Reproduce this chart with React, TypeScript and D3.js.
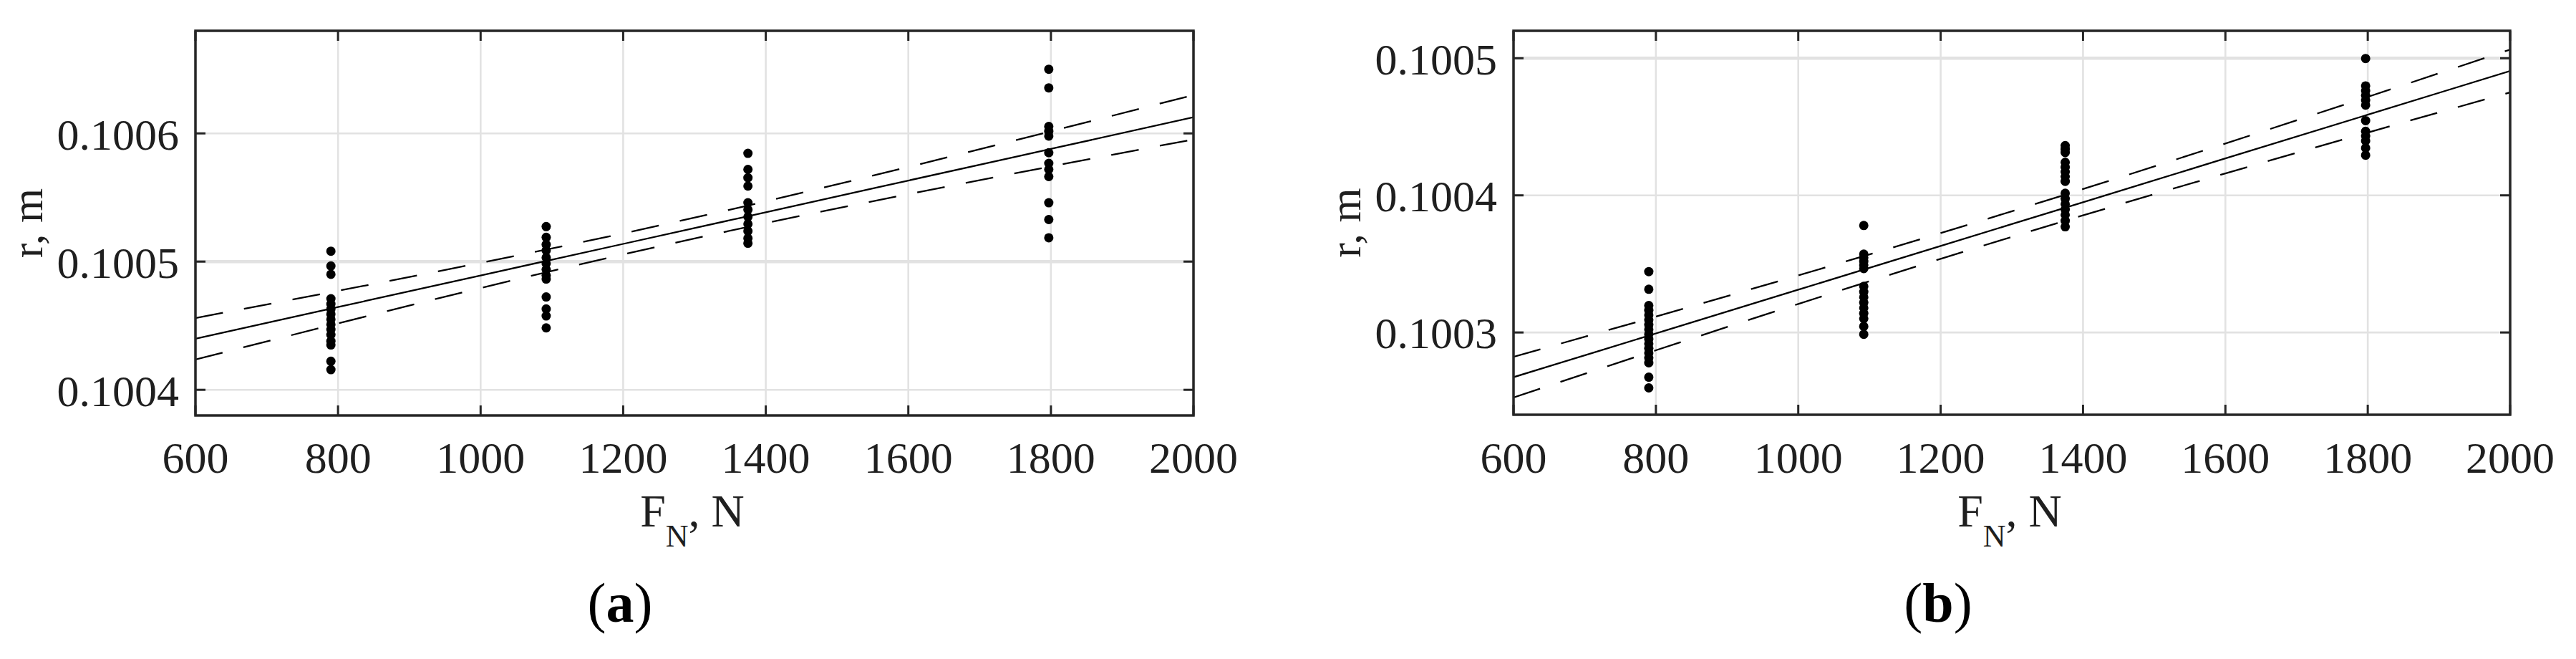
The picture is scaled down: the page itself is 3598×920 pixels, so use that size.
import React from 'react';
import * as d3 from 'd3';

// measured normal force levels (N)
const forceLevels = [790, 1092, 1375, 1797];

// radius r (m) measured at each force level, panel (a)
const radiusA = [
  [0.1005081, 0.1004966, 0.1004901, 0.100471, 0.100467, 0.100463, 0.100459, 0.100455, 0.100451, 0.100447, 0.100443, 0.100438, 0.100435, 0.1004223, 0.1004157],
  [0.1005273, 0.1005189, 0.1005133, 0.1005087, 0.1005031, 0.1004985, 0.1004938, 0.1004892, 0.1004864, 0.1004724, 0.1004631, 0.1004576, 0.1004483],
  [0.1005844, 0.1005719, 0.1005654, 0.1005589, 0.1005459, 0.1005405, 0.1005349, 0.1005293, 0.1005238, 0.1005182, 0.1005143],
  [0.10065, 0.1006355, 0.1006054, 0.1006017, 0.1005979, 0.1005849, 0.1005766, 0.1005719, 0.1005663, 0.1005459, 0.1005328, 0.1005186]
];

// panel (b)
const radiusB = [
  [0.1003444, 0.1003315, 0.1003196, 0.1003162, 0.1003127, 0.1003092, 0.1003057, 0.1003022, 0.1002987, 0.1002952, 0.1002918, 0.1002884, 0.100285, 0.1002815, 0.1002779, 0.1002674, 0.1002596],
  [0.100378, 0.1003571, 0.1003545, 0.1003518, 0.1003492, 0.1003466, 0.1003336, 0.1003297, 0.1003257, 0.1003218, 0.1003179, 0.100314, 0.1003101, 0.1003044, 0.1002987],
  [0.1004363, 0.1004337, 0.1004312, 0.1004241, 0.1004206, 0.1004171, 0.1004137, 0.1004102, 0.1004015, 0.1003976, 0.1003936, 0.1003897, 0.1003858, 0.1003815, 0.1003771],
  [0.1004998, 0.1004798, 0.1004763, 0.1004728, 0.1004693, 0.1004658, 0.1004545, 0.1004467, 0.1004432, 0.1004397, 0.1004345, 0.1004293]
];

// fit line and confidence bounds read at these forces
const bandForce = [600, 800, 1000, 1200, 1400, 1600, 1800, 2000];
const fitA = [0.1004398, 0.1004645, 0.1004892, 0.1005138, 0.1005385, 0.1005632, 0.1005879, 0.1006126];
const upperA = [0.100456, 0.1004772, 0.100499, 0.100522, 0.100547, 0.1005738, 0.1006016, 0.1006299];
const lowerA = [0.1004236, 0.1004518, 0.1004794, 0.1005056, 0.10053, 0.1005526, 0.1005742, 0.1005953];
const fitB = [0.1002674, 0.1002993, 0.1003312, 0.1003631, 0.100395, 0.1004269, 0.1004588, 0.1004907];
const upperB = [0.1002822, 0.1003116, 0.1003416, 0.1003725, 0.1004046, 0.1004378, 0.1004718, 0.1005063];
const lowerB = [0.1002526, 0.100287, 0.1003208, 0.1003537, 0.1003854, 0.100416, 0.1004458, 0.1004751];

const xTicks = [600, 800, 1000, 1200, 1400, 1600, 1800, 2000];
const yTicksA = [0.1004, 0.1005, 0.1006];
const yTicksB = [0.1003, 0.1004, 0.1005];
const xDomain = [600, 2000];
const yDomainA = [0.10038, 0.10068];
const yDomainB = [0.10024, 0.10052];

const W = 3598;
const H = 920;
const font = '"Liberation Serif", "Times New Roman", Times, serif';
const ink = '#1f1f1f';

function Panel({ id, box, yDomain, yTicks, clusters, fit, upper, lower, tag, tagX }) {
  const x = d3.scaleLinear().domain(xDomain).range([box.left, box.right]);
  const y = d3.scaleLinear().domain(yDomain).range([box.bottom, box.top]);
  const line = d3.line<number>()
    .x((_, i) => x(bandForce[i]))
    .y(d => y(d))
    .curve(d3.curveNatural);
  const tickLen = 14;
  const midX = (box.left + box.right) / 2;
  const midY = (box.top + box.bottom) / 2;

  return (
    <g>
      <defs>
        <clipPath id={id}>
          <rect x={box.left} y={box.top} width={box.right - box.left} height={box.bottom - box.top} />
        </clipPath>
      </defs>
      {/* grid */}
      {xTicks.map(t => (
        <line key={'gx' + t} x1={x(t)} x2={x(t)} y1={box.top} y2={box.bottom} stroke="#e2e2e2" strokeWidth={2.6} />
      ))}
      {yTicks.map(t => (
        <line key={'gy' + t} x1={box.left} x2={box.right} y1={y(t)} y2={y(t)} stroke="#e2e2e2"
          strokeWidth={Math.abs(t - 0.1005) < 1e-9 ? 4.5 : 2.6} />
      ))}
      {/* fit + bounds */}
      <g clipPath={`url(#${id})`} fill="none" stroke="#000" strokeWidth={2.3}>
        <path d={line(fit) || ''} />
        <path d={line(upper) || ''} strokeDasharray="39 30" />
        <path d={line(lower) || ''} strokeDasharray="39 30" />
      </g>
      {/* points */}
      {clusters.map((vals, i) => vals.map((v, j) => (
        <circle key={i + '-' + j} cx={x(forceLevels[i])} cy={y(v)} r={6.5} fill="#000" />
      )))}
      {/* ticks inside on all sides */}
      <g stroke="#262626" strokeWidth={3}>
        {xTicks.map(t => (
          <g key={'tx' + t}>
            <line x1={x(t)} x2={x(t)} y1={box.bottom} y2={box.bottom - tickLen} />
            <line x1={x(t)} x2={x(t)} y1={box.top} y2={box.top + tickLen} />
          </g>
        ))}
        {yTicks.map(t => (
          <g key={'ty' + t}>
            <line x1={box.left} x2={box.left + tickLen} y1={y(t)} y2={y(t)} />
            <line x1={box.right} x2={box.right - tickLen} y1={y(t)} y2={y(t)} />
          </g>
        ))}
      </g>
      <rect x={box.left} y={box.top} width={box.right - box.left} height={box.bottom - box.top}
        fill="none" stroke="#262626" strokeWidth={3.5} />
      {/* tick labels */}
      <g fontFamily={font} fontSize={62} fill={ink}>
        {xTicks.map(t => (
          <text key={'lx' + t} x={x(t)} y={660} textAnchor="middle">{t}</text>
        ))}
        {yTicks.map(t => (
          <text key={'ly' + t} x={box.left - 23} y={y(t)} dy="0.36em" textAnchor="end">{d3.format('.4f')(t)}</text>
        ))}
      </g>
      {/* axis titles */}
      <text fontFamily={font} fontSize={62} fill={ink} textAnchor="middle"
        transform={`translate(${box.left - 214},${midY}) rotate(-90)`}>r, m</text>
      <text fontFamily={font} fontSize={64} fill={ink} textAnchor="middle" x={midX - 3} y={735}>
        <tspan>F</tspan>
        <tspan fontSize={44} dy={28}>N</tspan>
        <tspan dy={-28}>, N</tspan>
      </text>
      <text fontFamily={font} fontSize={78} fill="#000" textAnchor="middle" x={tagX} y={868}>
        <tspan>(</tspan>
        <tspan fontWeight="bold">{tag}</tspan>
        <tspan>)</tspan>
      </text>
    </g>
  );
}

export default function App() {
  return (
    <svg width={W} height={H} viewBox={`0 0 ${W} ${H}`}
      style={{ position: 'absolute', left: 0, top: 0, background: '#fff' }}>
      <rect width={W} height={H} fill="#fff" />
      <Panel id="clipA" box={{ left: 273, right: 1667, top: 43, bottom: 580 }}
        yDomain={yDomainA} yTicks={yTicksA} clusters={radiusA}
        fit={fitA} upper={upperA} lower={lowerA} tag="a" tagX={866} />
      <Panel id="clipB" box={{ left: 2114, right: 3506, top: 43, bottom: 579 }}
        yDomain={yDomainB} yTicks={yTicksB} clusters={radiusB}
        fit={fitB} upper={upperB} lower={lowerB} tag="b" tagX={2707} />
    </svg>
  );
}
